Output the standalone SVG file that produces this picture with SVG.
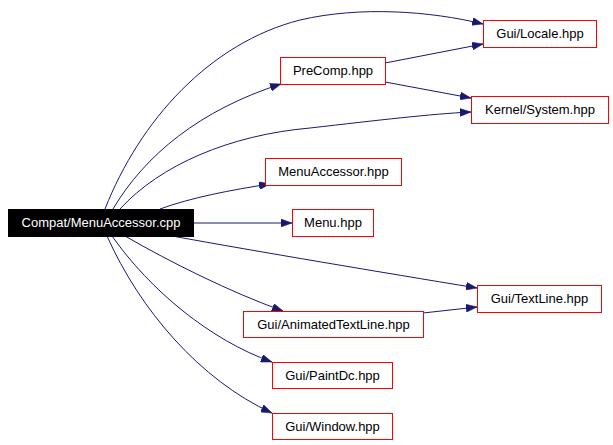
<svg xmlns="http://www.w3.org/2000/svg" width="613" height="445" viewBox="0 0 613 445">
<style>
.node rect{fill:#ffffff;stroke:#ff0000;stroke-width:1}
.node text{font-family:"Liberation Sans",Arial,sans-serif;font-size:13px;fill:#000000;text-anchor:middle}
#n0 rect{fill:#000000;stroke:#000000}
#n0 text{fill:#ffffff}
.edges path{fill:none;stroke:#191970;stroke-width:1;marker-end:url(#ah)}
</style>
<defs>
<marker id="ah" viewBox="0 0 11 8" markerWidth="11" markerHeight="8" markerUnits="userSpaceOnUse" refX="11" refY="4" orient="auto">
<path d="M0,0 L11,4 L0,8 z" fill="#191970" stroke="#191970" stroke-width="0.5"/>
</marker>
</defs>
<rect width="613" height="445" fill="#ffffff"/>
<g class="edges">
<path d="M105,209 C140,120 210,43 300,20 C360,6 430,11 483,24"/>
<path d="M113,209 C145,155 200,110 281,84"/>
<path d="M120,209 C160,165 230,135 310,128 C380,120 430,114 471,112"/>
<path d="M160,209 C190,198 230,190 270,184"/>
<path d="M193,223 L292,223"/>
<path d="M172,236 C260,252 380,272 477,288"/>
<path d="M125,236 C170,262 230,292 283,311"/>
<path d="M112,236 C150,290 210,340 272,362"/>
<path d="M107,236 C140,310 200,380 272,413"/>
<path d="M385,63 L483,44"/>
<path d="M385,82 L471,98"/>
<path d="M423,313 L477,307"/>
</g>
<g id="n0" class="node"><rect x="8.5" y="209.5" width="185" height="27"/><text x="101" y="227">Compat/MenuAccessor.cpp</text></g>
<g id="n1" class="node"><rect x="483.5" y="20.5" width="113" height="27"/><text x="540" y="38">Gui/Locale.hpp</text></g>
<g id="n2" class="node"><rect x="280.5" y="57.5" width="105" height="27"/><text x="333" y="75">PreComp.hpp</text></g>
<g id="n3" class="node"><rect x="471.5" y="96.5" width="137" height="27"/><text x="540" y="114">Kernel/System.hpp</text></g>
<g id="n4" class="node"><rect x="265.5" y="158.5" width="136" height="27"/><text x="333.5" y="176">MenuAccessor.hpp</text></g>
<g id="n5" class="node"><rect x="292.5" y="209.5" width="81" height="27"/><text x="333" y="227">Menu.hpp</text></g>
<g id="n6" class="node"><rect x="477.5" y="285.5" width="124" height="27"/><text x="539.5" y="303">Gui/TextLine.hpp</text></g>
<g id="n7" class="node"><rect x="243.5" y="311.5" width="180" height="26"/><text x="333.5" y="329">Gui/AnimatedTextLine.hpp</text></g>
<g id="n8" class="node"><rect x="272.5" y="362.5" width="120" height="26"/><text x="332.5" y="380">Gui/PaintDc.hpp</text></g>
<g id="n9" class="node"><rect x="272.5" y="413.5" width="120" height="26"/><text x="332.5" y="431">Gui/Window.hpp</text></g>
</svg>
